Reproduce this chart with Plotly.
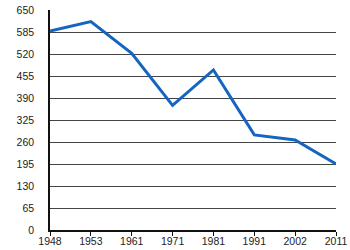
import plotly.graph_objects as go

years = ["1948", "1953", "1961", "1971", "1981", "1991", "2002", "2011"]
values = [588, 616, 522, 368, 473, 281, 266, 195]
y_ticks = [0, 65, 130, 195, 260, 325, 390, 455, 520, 585, 650]

fig = go.Figure()
fig.add_trace(go.Scatter(
    x=years, y=values, mode="lines",
    line=dict(color="#1565C0", width=3),
    hoverinfo="skip",
))

fig.update_layout(
    width=350, height=250,
    margin=dict(l=50, r=14, t=10, b=20, autoexpand=False),
    paper_bgcolor="white", plot_bgcolor="white",
    showlegend=False,
    font=dict(family="Liberation Sans, Arial, sans-serif", size=10.5, color="#222"),
)
fig.update_xaxes(
    type="category", range=[0, 7], automargin=False,
    showgrid=False, zeroline=False,
    showline=True, linecolor="#111", linewidth=1.5,
    ticks="outside", ticklen=4, tickcolor="#111", tickwidth=1,
    ticklabelstandoff=-3,
    tickfont=dict(size=10.5, color="#222"),
)
fig.update_yaxes(
    range=[0, 650], tickvals=y_ticks, ticktext=[str(v) for v in y_ticks],
    automargin=False,
    showgrid=True, gridcolor="#444", gridwidth=1,
    zeroline=False,
    showline=True, linecolor="#111", linewidth=1.5,
    ticks="", ticklabelstandoff=12,
    tickfont=dict(size=10.5, color="#222"),
)

fig.write_html("out.html")
